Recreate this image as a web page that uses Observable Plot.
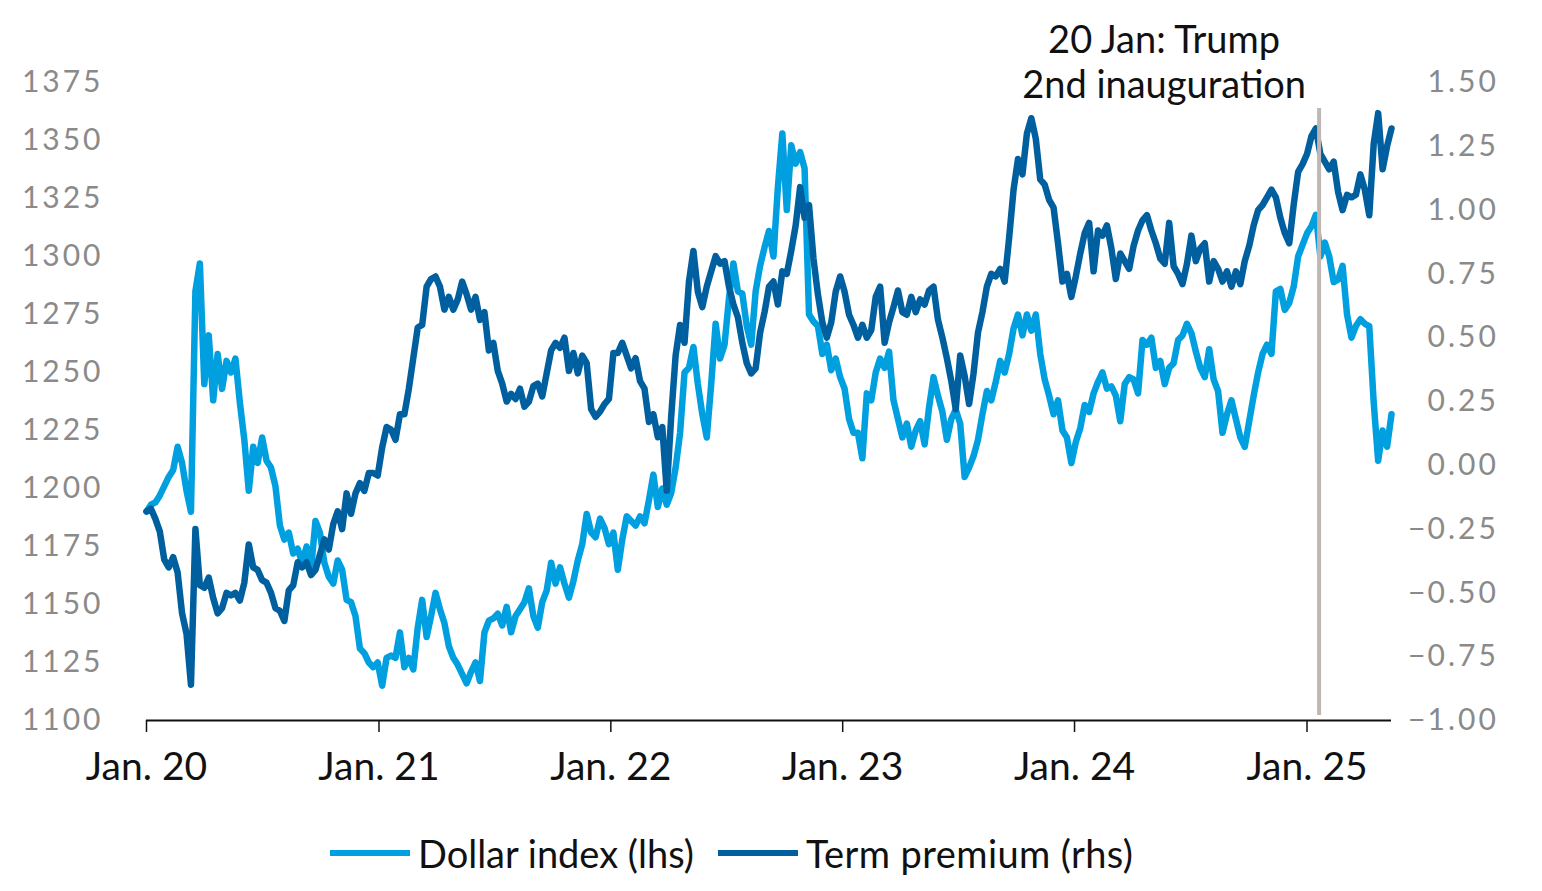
<!DOCTYPE html>
<html>
<head>
<meta charset="utf-8">
<script src="https://cdn.jsdelivr.net/npm/d3@7"></script>
<script src="https://cdn.jsdelivr.net/npm/@observablehq/plot@0.6"></script>
<style>
  html, body { margin: 0; padding: 0; background: #ffffff; }
  #wrap { position: relative; width: 1542px; height: 891px; }
  [aria-label="y-axis tick label"] text { letter-spacing: 3px; }
  #legend { position: absolute; top: 829px; left: 330px; display: flex; align-items: center;
            font-family: Lato, sans-serif; font-size: 38px; color: #111; line-height: 48px; }
  #legend .item { display: flex; align-items: center; margin-right: 24px; }
  #legend .sw { width: 80px; height: 6px; margin-right: 8px; }
  #legend .item:last-child span:last-child { letter-spacing: 0.4px; }
</style>
</head>
<body>
<div id="wrap">
  <div id="chart"></div>
  <div id="legend"></div>
</div>
<script>
// Weekly observations starting 1 Jan 2020
const startDate = "2020-01-01";
const stepDays = 7;

// Dollar index (lhs)
const dollarIndex = [
  1190,1193,1194,1197,1201,1205,1208,1218,1211,1199,
  1190,1285,1297,1245,1266,1238,1258,1243,1255,1250,
  1256,1237,1221,1199,1218,1211,1222,1212,1209,1201,
  1184,1178,1181,1172,1174,1168,1175,1165,1186,1181,
  1168,1162,1159,1169,1165,1152,1151,1145,1131,1129,
  1125,1123,1125,1115,1127,1128,1127,1138,1123,1127,
  1122,1140,1152,1136,1145,1155,1148,1142,1132,1127,
  1124,1120,1116,1121,1125,1117,1138,1143,1144,1146,
  1141,1149,1138,1145,1148,1151,1157,1145,1140,1151,
  1156,1168,1159,1166,1159,1153,1160,1169,1176,1189,
  1181,1179,1187,1183,1176,1181,1165,1178,1188,1186,
  1184,1188,1185,1195,1206,1192,1200,1193,1198,1209,
  1224,1250,1252,1261,1245,1232,1222,1245,1271,1256,
  1262,1282,1297,1285,1284,1270,1262,1285,1296,1304,
  1311,1300,1330,1353,1320,1348,1340,1345,1338,1275,
  1272,1270,1258,1262,1251,1256,1248,1243,1230,1224,
  1224,1213,1241,1238,1250,1256,1252,1259,1238,1230,
  1222,1228,1218,1225,1229,1219,1235,1248,1240,1233,
  1221,1230,1234,1228,1205,1209,1214,1221,1232,1242,
  1238,1246,1255,1250,1258,1269,1275,1266,1275,1268,
  1275,1258,1247,1240,1232,1238,1225,1222,1211,1220,
  1226,1236,1233,1241,1246,1250,1243,1244,1240,1229,
  1245,1248,1247,1241,1264,1262,1265,1252,1255,1245,
  1252,1254,1264,1266,1271,1267,1259,1252,1248,1260,
  1247,1242,1224,1232,1238,1230,1222,1218,1229,1240,
  1250,1258,1262,1258,1285,1286,1277,1280,1287,1300,
  1305,1310,1313,1318,1300,1306,1300,1289,1290,1296,
  1275,1265,1270,1273,1271,1270,1237,1212,1225,1218,1232
];

// Term premium (rhs)
const termPremium = [
  -0.18,-0.17,-0.21,-0.26,-0.37,-0.40,-0.36,-0.42,-0.58,-0.66,
  -0.86,-0.25,-0.47,-0.48,-0.44,-0.52,-0.58,-0.56,-0.50,-0.51,
  -0.50,-0.53,-0.46,-0.31,-0.40,-0.41,-0.45,-0.46,-0.50,-0.56,
  -0.57,-0.61,-0.49,-0.47,-0.38,-0.40,-0.38,-0.43,-0.41,-0.35,
  -0.29,-0.33,-0.23,-0.18,-0.25,-0.11,-0.19,-0.11,-0.07,-0.10,
  -0.03,-0.03,-0.04,0.07,0.15,0.14,0.10,0.20,0.20,0.30,
  0.42,0.54,0.55,0.70,0.73,0.74,0.70,0.61,0.66,0.61,
  0.65,0.72,0.67,0.61,0.66,0.57,0.60,0.45,0.48,0.37,
  0.32,0.25,0.28,0.26,0.30,0.23,0.25,0.31,0.32,0.27,
  0.36,0.45,0.48,0.46,0.50,0.37,0.44,0.36,0.43,0.40,
  0.22,0.19,0.21,0.24,0.26,0.44,0.44,0.48,0.43,0.38,
  0.42,0.33,0.30,0.17,0.20,0.11,0.15,-0.10,0.19,0.43,
  0.55,0.48,0.72,0.84,0.68,0.62,0.70,0.76,0.82,0.79,
  0.80,0.70,0.63,0.58,0.48,0.40,0.36,0.38,0.52,0.60,
  0.70,0.72,0.63,0.76,0.75,0.84,0.94,1.09,0.97,1.02,
  0.81,0.67,0.56,0.50,0.56,0.68,0.74,0.68,0.59,0.55,
  0.50,0.55,0.50,0.53,0.66,0.70,0.48,0.56,0.62,0.685,
  0.60,0.59,0.66,0.60,0.65,0.63,0.685,0.70,0.57,0.50,
  0.42,0.33,0.22,0.43,0.35,0.24,0.36,0.52,0.60,0.70,
  0.75,0.74,0.77,0.72,0.89,1.08,1.20,1.14,1.30,1.36,
  1.28,1.12,1.10,1.04,1.01,0.87,0.72,0.75,0.66,0.74,
  0.83,0.91,0.95,0.76,0.92,0.90,0.94,0.85,0.73,0.83,
  0.80,0.77,0.86,0.92,0.96,0.98,0.92,0.87,0.81,0.79,
  0.95,0.78,0.75,0.71,0.79,0.90,0.80,0.85,0.87,0.72,
  0.80,0.77,0.72,0.76,0.70,0.76,0.71,0.80,0.86,0.94,
  1.00,1.02,1.05,1.08,1.05,0.97,0.91,0.87,1.02,1.15,
  1.18,1.22,1.29,1.32,1.22,1.19,1.16,1.19,1.07,1.00,
  1.06,1.05,1.06,1.14,1.08,0.98,1.26,1.38,1.16,1.25,1.32
];

const seriesNames = ["Dollar index (lhs)", "Term premium (rhs)"];
const seriesColors = ["#009fdf", "#005f9f"];

const leftTicks = [1100, 1125, 1150, 1175, 1200, 1225, 1250, 1275, 1300, 1325, 1350, 1375];
const rightTicks = [-1.00, -0.75, -0.50, -0.25, 0.00, 0.25, 0.50, 0.75, 1.00, 1.25, 1.50];
const xTickDates = ["2020-01-01", "2021-01-01", "2022-01-01", "2023-01-01", "2024-01-01", "2025-01-01"];
const xTickLabels = ["Jan. 20", "Jan. 21", "Jan. 22", "Jan. 23", "Jan. 24", "Jan. 25"];

const eventDate = "2025-01-20";
const eventLabel = "20 Jan: Trump\n2nd inauguration";

// ---- build ----
const lhsMin = 1100, lhsMax = 1375, rhsMin = -1.0, rhsMax = 1.5;
const toLhs = t => lhsMin + (t - rhsMin) * (lhsMax - lhsMin) / (rhsMax - rhsMin);
const toRhs = v => rhsMin + (v - lhsMin) * (rhsMax - rhsMin) / (lhsMax - lhsMin);

const t0 = new Date(startDate + "T00:00:00Z");
const dates = dollarIndex.map((_, i) => d3.utcDay.offset(t0, i * stepDays));
const dollarData = dollarIndex.map((v, i) => ({date: dates[i], value: v}));
const termData = termPremium.map((v, i) => ({date: dates[i], value: toLhs(v)}));
const xTicks = xTickDates.map(d => new Date(d + "T00:00:00Z"));
const xLabelOf = d => xTickLabels[xTicks.findIndex(t => +t === +d)];
const fmt2 = d3.format(".2f");
const rhsLabel = v => fmt2(Math.abs(Math.round(toRhs(v) * 100) / 100));
const ev = [{date: new Date(eventDate + "T00:00:00Z"), label: eventLabel}];

const chart = Plot.plot({
  width: 1542,
  height: 800,
  marginTop: 82,
  marginBottom: 80,
  marginLeft: 146,
  marginRight: 151,
  style: {fontFamily: "Lato, sans-serif", background: "#ffffff", overflow: "visible"},
  x: {type: "utc", domain: [dates[0], dates[dates.length - 1]]},
  y: {domain: [lhsMin, lhsMax]},
  marks: [
    Plot.axisY({anchor: "left", ticks: leftTicks, tickSize: 0, tickPadding: 43,
      fontSize: 30, fill: "#8a8a8a", label: null, tickFormat: d => String(d)}),
    Plot.axisY({anchor: "right", ticks: rightTicks.map(toLhs), tickSize: 0, tickPadding: 36,
      textAnchor: "start", fontSize: 30, fill: "#8a8a8a", label: null, tickFormat: rhsLabel}),
    Plot.text(rightTicks.filter(t => t < 0), {y: t => toLhs(t), frameAnchor: "right", dx: 34,
      textAnchor: "end", text: () => "\u2212", fontSize: 30, fill: "#8a8a8a"}),
    Plot.axisX({ticks: xTicks, tickSize: 12, tickPadding: 20, fontSize: 39, fill: "#111",
      stroke: "#111", strokeWidth: 1.5, label: null, tickFormat: xLabelOf}),
    Plot.ruleY([lhsMin], {stroke: "#111", strokeWidth: 2}),
    Plot.line(dollarData, {x: "date", y: "value", stroke: seriesColors[0], strokeWidth: 6.5,
      strokeLinejoin: "round", strokeLinecap: "round"}),
    Plot.line(termData, {x: "date", y: "value", stroke: seriesColors[1], strokeWidth: 6.5,
      strokeLinejoin: "round", strokeLinecap: "round"}),
    Plot.ruleX(ev, {x: "date", stroke: "#bfb7b3", strokeWidth: 4, insetTop: 26, insetBottom: 5}),
    Plot.text(ev, {x: "date", text: "label", frameAnchor: "top", dx: -155, dy: -62,
      fontSize: 38, lineHeight: 1.2, fill: "#111", textAnchor: "middle"})
  ]
});
document.getElementById("chart").appendChild(chart);

const legend = document.getElementById("legend");
seriesNames.forEach((name, i) => {
  const item = document.createElement("div");
  item.className = "item";
  const sw = document.createElement("span");
  sw.className = "sw";
  sw.style.background = seriesColors[i];
  const lab = document.createElement("span");
  lab.textContent = name;
  item.appendChild(sw);
  item.appendChild(lab);
  legend.appendChild(item);
});
</script>
</body>
</html>
